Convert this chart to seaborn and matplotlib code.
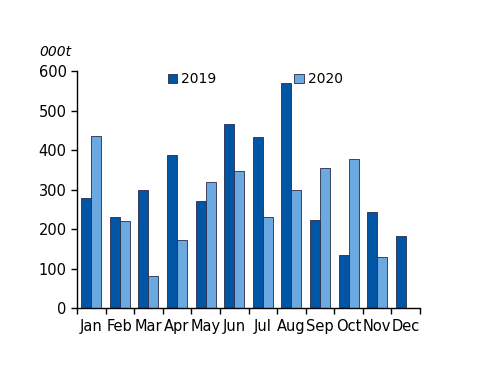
import numpy as np
import pandas as pd
import seaborn as sns
import matplotlib.pyplot as plt

# Monthly volumes, 000t
months = ['Jan', 'Feb', 'Mar', 'Apr', 'May', 'Jun', 'Jul', 'Aug', 'Sep', 'Oct', 'Nov', 'Dec']
v2019 = [278, 230, 299, 387, 271, 466, 433, 570, 223, 134, 243, 183]
v2020 = [435, 220, 81, 172, 319, 348, 230, 299, 354, 377, 129, np.nan]

df = pd.DataFrame({
    'Month': months * 2,
    'Year': ['2019'] * len(months) + ['2020'] * len(months),
    'Value': v2019 + v2020,
})

sns.set_style('white')
plt.rcParams['font.family'] = ['DejaVu Sans']
plt.rcParams['text.color'] = 'black'
plt.rcParams['xtick.color'] = 'black'
plt.rcParams['ytick.color'] = 'black'

fig = plt.figure(figsize=(5, 3.86), dpi=100)
ax = fig.add_axes([0.154, 0.202, 0.686, 0.614])

sns.barplot(data=df, x='Month', y='Value', hue='Year', order=months,
            palette={'2019': '#0055A5', '2020': '#6AAAE0'}, saturation=1,
            width=0.7, edgecolor='#2a2a4a', linewidth=0.6, ax=ax)

ax.set_xlim(-0.5, 11.5)
ax.set_ylim(0, 600)
ax.set_yticks(range(0, 601, 100))
ax.set_xlabel('')
ax.set_ylabel('')

# ticks between months
ax.set_xticks(np.arange(-0.5, 12, 1), minor=True)
ax.tick_params(axis='x', which='major', length=0, pad=8, labelsize=10.5)
ax.tick_params(axis='x', which='minor', length=4, width=1, direction='out', bottom=True)
ax.tick_params(axis='y', length=4, width=1, direction='out', left=True, labelsize=10.5)

for s in ['top', 'right']:
    ax.spines[s].set_visible(False)
for s in ['left', 'bottom']:
    ax.spines[s].set_color('black')
    ax.spines[s].set_linewidth(1)

fig.text(0.078, 0.855, '000t', fontsize=10, style='italic')

handles, labels = ax.get_legend_handles_labels()
ax.legend(handles, labels, ncol=2, frameon=False, loc='upper left',
          bbox_to_anchor=(0.31, 0.845), bbox_transform=fig.transFigure,
          handlelength=0.7, handleheight=0.7, handletextpad=0.3,
          columnspacing=5.6, fontsize=10)

fig.savefig('out.png', dpi=100)
